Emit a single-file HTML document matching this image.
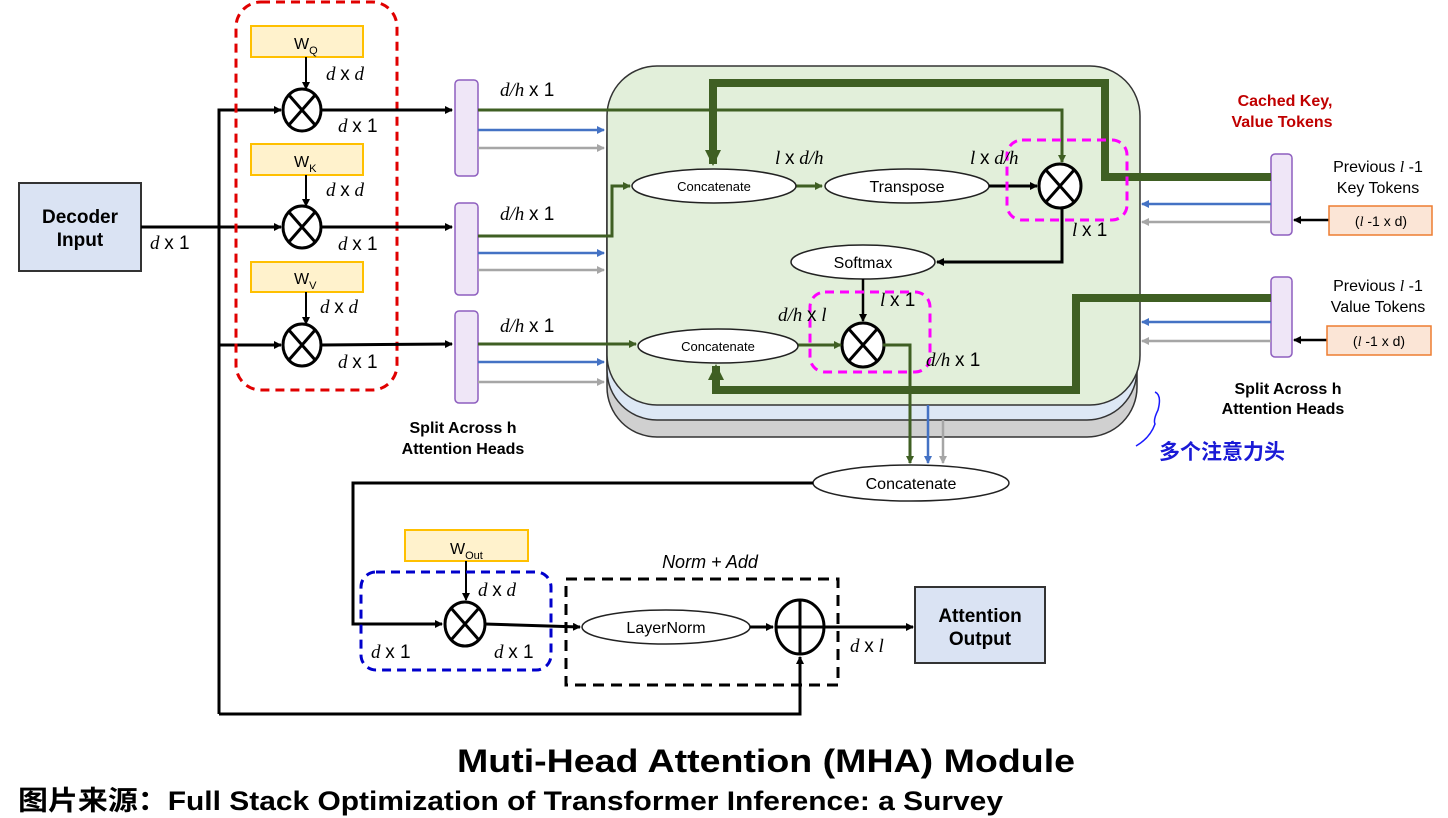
<!DOCTYPE html>
<html><head><meta charset="utf-8"><style>
html,body{margin:0;padding:0;background:#fff;}
svg{display:block;}
text{font-family:"Liberation Sans","Noto Sans CJK SC",sans-serif;}
.m{font-family:"Liberation Serif","DejaVu Serif",serif;font-style:italic;font-size:19px;}
.n{font-family:"Liberation Sans",sans-serif;font-style:normal;}
</style></head><body>
<svg width="1448" height="818" viewBox="0 0 1448 818" xmlns="http://www.w3.org/2000/svg">
<defs>
<marker id="ak" markerWidth="8" markerHeight="8" refX="7" refY="4" orient="auto" markerUnits="userSpaceOnUse"><path d="M0,0L8,4L0,8z" fill="#000"/></marker>
<marker id="ag" markerWidth="8" markerHeight="8" refX="7" refY="4" orient="auto" markerUnits="userSpaceOnUse"><path d="M0,0L8,4L0,8z" fill="#3f5f23"/></marker>
<marker id="ab" markerWidth="8" markerHeight="8" refX="7" refY="4" orient="auto" markerUnits="userSpaceOnUse"><path d="M0,0L8,4L0,8z" fill="#4472c4"/></marker>
<marker id="ay" markerWidth="8" markerHeight="8" refX="7" refY="4" orient="auto" markerUnits="userSpaceOnUse"><path d="M0,0L8,4L0,8z" fill="#a6a6a6"/></marker>
<marker id="aG" markerWidth="16" markerHeight="16" refX="14" refY="8" orient="auto" markerUnits="userSpaceOnUse"><path d="M0,0L16,8L0,16z" fill="#3f5f23"/></marker>
</defs>

<rect x="607" y="100" width="530" height="337" rx="50" fill="#d0d0d0" stroke="#333" stroke-width="1.5"/>
<rect x="607" y="85" width="530" height="335" rx="50" fill="#dde8f5" stroke="#333" stroke-width="1.5"/>
<rect x="607" y="66" width="533" height="339" rx="50" fill="#e2efda" stroke="#333" stroke-width="1.5"/>

<rect x="19" y="183" width="122" height="88" fill="#dae3f3" stroke="#333" stroke-width="2"/>
<text x="80" y="223" font-size="19" font-weight="bold" text-anchor="middle">Decoder</text>
<text x="80" y="246" font-size="19" font-weight="bold" text-anchor="middle">Input</text>
<text x="150" y="249" class="m">d <tspan class="n">x 1</tspan></text>

<g stroke="#000" stroke-width="3" fill="none">
<line x1="141" y1="227" x2="281" y2="227" marker-end="url(#ak)"/>
<polyline points="219,714 219,110 281,110" marker-end="url(#ak)"/>
<line x1="219" y1="345" x2="281" y2="345" marker-end="url(#ak)"/>
<polyline points="219,714 800,714 800,657" marker-end="url(#ak)"/>
</g>

<rect x="236" y="2" width="161" height="388" rx="25" fill="none" stroke="#e00000" stroke-width="3" stroke-dasharray="9,6"/>

<g fill="#fff2cc" stroke="#ffc000" stroke-width="2">
<rect x="251" y="26" width="112" height="31"/><rect x="251" y="144" width="112" height="31"/><rect x="251" y="262" width="112" height="30"/>
<rect x="405" y="530" width="123" height="31"/>
</g>
<text x="294" y="49" font-size="16">W<tspan font-size="11" dy="5">Q</tspan></text>
<text x="294" y="167" font-size="16">W<tspan font-size="11" dy="5">K</tspan></text>
<text x="294" y="284" font-size="16">W<tspan font-size="11" dy="5">V</tspan></text>
<text x="450" y="554" font-size="16">W<tspan font-size="11" dy="5">Out</tspan></text>

<g stroke="#000" stroke-width="2" fill="none">
<line x1="306" y1="57" x2="306" y2="89" marker-end="url(#ak)"/>
<line x1="306" y1="175" x2="306" y2="206" marker-end="url(#ak)"/>
<line x1="306" y1="292" x2="306" y2="324" marker-end="url(#ak)"/>
</g>
<text x="326" y="80" class="m">d <tspan class="n">x</tspan> d</text>
<text x="326" y="196" class="m">d <tspan class="n">x</tspan> d</text>
<text x="320" y="313" class="m">d <tspan class="n">x</tspan> d</text>
<text x="338" y="132" class="m">d <tspan class="n">x 1</tspan></text>
<text x="338" y="250" class="m">d <tspan class="n">x 1</tspan></text>
<text x="338" y="368" class="m">d <tspan class="n">x 1</tspan></text>

<g stroke="#000" stroke-width="3" fill="#fff">
<ellipse cx="302" cy="110" rx="19" ry="21"/><ellipse cx="302" cy="227" rx="19" ry="21"/><ellipse cx="302" cy="345" rx="19" ry="21"/>
<ellipse cx="1060" cy="186" rx="21" ry="22"/><ellipse cx="863" cy="345" rx="21" ry="22"/><ellipse cx="465" cy="624" rx="20" ry="22"/>
</g>
<g stroke="#000" stroke-width="3">
<path d="M288,94L316,126M316,94L288,126"/><path d="M288,211L316,243M316,211L288,243"/><path d="M288,329L316,361M316,329L288,361"/>
<path d="M1045,169L1075,203M1075,169L1045,203"/><path d="M848,328L878,362M878,328L848,362"/><path d="M451,608L479,640M479,608L451,640"/>
</g>

<g stroke="#000" stroke-width="3">
<line x1="321" y1="110" x2="452" y2="110" marker-end="url(#ak)"/>
<line x1="321" y1="227" x2="452" y2="227" marker-end="url(#ak)"/>
<line x1="321" y1="345" x2="452" y2="344" marker-end="url(#ak)"/>
</g>
<g fill="#efe6f7" stroke="#8e5fbf" stroke-width="1.5">
<rect x="455" y="80" width="23" height="96" rx="4"/><rect x="455" y="203" width="23" height="92" rx="4"/><rect x="455" y="311" width="23" height="92" rx="4"/>
<rect x="1271" y="154" width="21" height="81" rx="4"/><rect x="1271" y="277" width="21" height="80" rx="4"/>
</g>
<text x="500" y="96" class="m">d/h <tspan class="n">x 1</tspan></text>
<text x="500" y="220" class="m">d/h <tspan class="n">x 1</tspan></text>
<text x="500" y="332" class="m">d/h <tspan class="n">x 1</tspan></text>

<g stroke-width="2.5">
<line x1="478" y1="130" x2="604" y2="130" stroke="#4472c4" marker-end="url(#ab)"/>
<line x1="478" y1="148" x2="604" y2="148" stroke="#a6a6a6" marker-end="url(#ay)"/>
<line x1="478" y1="253" x2="604" y2="253" stroke="#4472c4" marker-end="url(#ab)"/>
<line x1="478" y1="270" x2="604" y2="270" stroke="#a6a6a6" marker-end="url(#ay)"/>
<line x1="478" y1="362" x2="604" y2="362" stroke="#4472c4" marker-end="url(#ab)"/>
<line x1="478" y1="382" x2="604" y2="382" stroke="#a6a6a6" marker-end="url(#ay)"/>
</g>
<g stroke="#3f5f23" stroke-width="3" fill="none">
<polyline points="478,110 1062,110 1062,162" marker-end="url(#ag)"/>
<polyline points="478,236 612,236 612,186 630,186" marker-end="url(#ag)"/>
<line x1="478" y1="344" x2="636" y2="344" marker-end="url(#ag)"/>
<line x1="767" y1="186" x2="822" y2="186" marker-end="url(#ag)"/>
<line x1="798" y1="345" x2="841" y2="345" marker-end="url(#ag)"/>
<polyline points="883,345 910,345 910,463" marker-end="url(#ag)"/>
</g>
<g stroke-width="2.5">
<line x1="928" y1="405" x2="928" y2="463" stroke="#4472c4" marker-end="url(#ab)"/>
<line x1="943" y1="420" x2="943" y2="463" stroke="#a6a6a6" marker-end="url(#ay)"/>
</g>

<g stroke="#3f5f23" stroke-width="8" fill="none">
<polyline points="1271,177 1105,177 1105,83 713,83 713,164" marker-end="url(#aG)"/>
<polyline points="1271,298 1076,298 1076,390 716,390 716,366" marker-end="url(#aG)"/>
</g>

<g stroke-width="2.5">
<line x1="1271" y1="204" x2="1142" y2="204" stroke="#4472c4" marker-end="url(#ab)"/>
<line x1="1271" y1="222" x2="1142" y2="222" stroke="#a6a6a6" marker-end="url(#ay)"/>
<line x1="1271" y1="322" x2="1142" y2="322" stroke="#4472c4" marker-end="url(#ab)"/>
<line x1="1271" y1="341" x2="1142" y2="341" stroke="#a6a6a6" marker-end="url(#ay)"/>
<line x1="1329" y1="220" x2="1294" y2="220" stroke="#000" marker-end="url(#ak)"/>
<line x1="1327" y1="340" x2="1294" y2="340" stroke="#000" marker-end="url(#ak)"/>
</g>
<g fill="#fbe5d6" stroke="#ed7d31" stroke-width="1.5">
<rect x="1329" y="206" width="103" height="29"/><rect x="1327" y="326" width="104" height="29"/>
</g>
<text x="1381" y="226" font-size="14" text-anchor="middle">(<tspan font-family="Liberation Serif" font-style="italic">l</tspan> -1 x d)</text>
<text x="1379" y="346" font-size="14" text-anchor="middle">(<tspan font-family="Liberation Serif" font-style="italic">l</tspan> -1 x d)</text>
<text x="1378" y="172" font-size="16" text-anchor="middle">Previous <tspan font-family="Liberation Serif" font-style="italic">l</tspan> -1</text>
<text x="1378" y="193" font-size="16" text-anchor="middle">Key Tokens</text>
<text x="1378" y="291" font-size="16" text-anchor="middle">Previous <tspan font-family="Liberation Serif" font-style="italic">l</tspan> -1</text>
<text x="1378" y="312" font-size="16" text-anchor="middle">Value Tokens</text>
<text x="1285" y="106" font-size="16" font-weight="bold" fill="#c00000" text-anchor="middle">Cached Key,</text>
<text x="1282" y="127" font-size="16" font-weight="bold" fill="#c00000" text-anchor="middle">Value Tokens</text>
<text x="1288" y="394" font-size="16" font-weight="bold" text-anchor="middle">Split Across h</text>
<text x="1283" y="414" font-size="16" font-weight="bold" text-anchor="middle">Attention Heads</text>
<text x="463" y="433" font-size="16" font-weight="bold" text-anchor="middle">Split Across h</text>
<text x="463" y="454" font-size="16" font-weight="bold" text-anchor="middle">Attention Heads</text>
<path d="M1155,392 Q1162,395 1158,410 Q1153,420 1155,424 Q1150,438 1136,446" stroke="#1a1aff" stroke-width="1.5" fill="none"/>
<text x="1222" y="459" font-size="21" font-weight="bold" fill="#1a1ad6" text-anchor="middle">多个注意力头</text>

<g fill="#fff" stroke="#222" stroke-width="1.5">
<ellipse cx="714" cy="186" rx="82" ry="17"/><ellipse cx="907" cy="186" rx="82" ry="17"/>
<ellipse cx="863" cy="262" rx="72" ry="17"/><ellipse cx="718" cy="346" rx="80" ry="17"/>
<ellipse cx="911" cy="483" rx="98" ry="18"/><ellipse cx="666" cy="627" rx="84" ry="17"/>
</g>
<text x="714" y="191" font-size="13" text-anchor="middle">Concatenate</text>
<text x="907" y="192" font-size="16" text-anchor="middle">Transpose</text>
<text x="863" y="268" font-size="16" text-anchor="middle">Softmax</text>
<text x="718" y="351" font-size="13" text-anchor="middle">Concatenate</text>
<text x="911" y="489" font-size="16" text-anchor="middle">Concatenate</text>
<text x="666" y="633" font-size="16" text-anchor="middle">LayerNorm</text>

<g stroke="#000" stroke-width="3" fill="none">
<line x1="989" y1="186" x2="1037" y2="186" marker-end="url(#ak)"/>
<polyline points="1062,208 1062,262 937,262" marker-end="url(#ak)"/>
<line x1="863" y1="279" x2="863" y2="321" stroke-width="2.5" marker-end="url(#ak)"/>
<polyline points="813,483 353,483 353,624 442,624" marker-end="url(#ak)"/>
<line x1="466" y1="561" x2="466" y2="600" stroke-width="2" marker-end="url(#ak)"/>
<line x1="485" y1="624" x2="580" y2="627" marker-end="url(#ak)"/>
<line x1="750" y1="627" x2="773" y2="627" marker-end="url(#ak)"/>
<line x1="825" y1="627" x2="913" y2="627" marker-end="url(#ak)"/>
</g>

<rect x="1007" y="140" width="120" height="80" rx="15" fill="none" stroke="#ff00ff" stroke-width="3" stroke-dasharray="9,6"/>
<rect x="810" y="292" width="120" height="80" rx="15" fill="none" stroke="#ff00ff" stroke-width="3" stroke-dasharray="9,6"/>
<text x="775" y="164" class="m">l <tspan class="n">x</tspan> d/h</text>
<text x="970" y="164" class="m">l <tspan class="n">x</tspan> d/h</text>
<text x="1072" y="236" class="m">l <tspan class="n">x 1</tspan></text>
<text x="880" y="306" class="m">l <tspan class="n">x 1</tspan></text>
<text x="778" y="321" class="m">d/h <tspan class="n">x</tspan> l</text>
<text x="926" y="366" class="m">d/h <tspan class="n">x 1</tspan></text>

<rect x="361" y="572" width="190" height="98" rx="15" fill="none" stroke="#0000cc" stroke-width="3" stroke-dasharray="9,6"/>
<rect x="566" y="579" width="272" height="106" fill="none" stroke="#000" stroke-width="3" stroke-dasharray="11,7"/>
<text x="710" y="568" font-size="18" font-style="italic" text-anchor="middle">Norm + Add</text>
<text x="478" y="596" class="m">d <tspan class="n">x</tspan> d</text>
<text x="371" y="658" class="m">d <tspan class="n">x 1</tspan></text>
<text x="494" y="658" class="m">d <tspan class="n">x 1</tspan></text>
<ellipse cx="800" cy="627" rx="24" ry="27" fill="#fff" stroke="#000" stroke-width="3"/>
<path d="M776,627H824M800,600V654" stroke="#000" stroke-width="3"/>
<text x="850" y="652" class="m">d <tspan class="n">x</tspan> l</text>
<rect x="915" y="587" width="130" height="76" fill="#dae3f3" stroke="#333" stroke-width="2"/>
<text x="980" y="622" font-size="19" font-weight="bold" text-anchor="middle">Attention</text>
<text x="980" y="645" font-size="19" font-weight="bold" text-anchor="middle">Output</text>

<text x="457" y="772" font-size="32" font-weight="bold" textLength="618" lengthAdjust="spacingAndGlyphs">Muti-Head Attention (MHA) Module</text>
<text x="18" y="810" font-size="27" font-weight="bold" textLength="985" lengthAdjust="spacingAndGlyphs">图片来源：Full Stack Optimization of Transformer Inference: a Survey</text>
</svg>
</body></html>
